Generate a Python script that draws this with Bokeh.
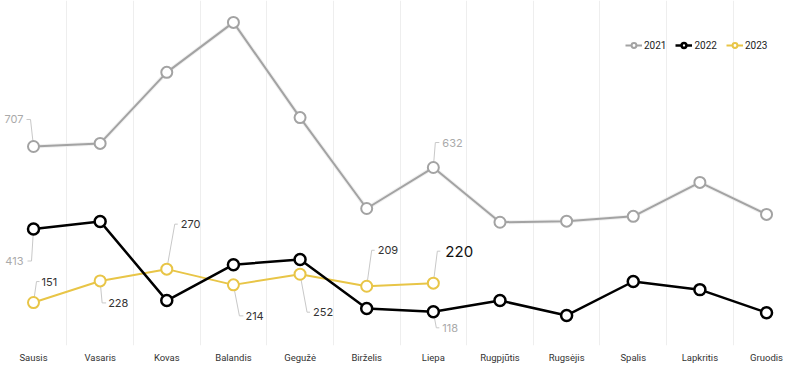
from bokeh.plotting import figure
from bokeh.models import Range1d, FixedTicker, Legend, LegendItem, ColumnDataSource
from bokeh.embed import file_html
from bokeh.resources import INLINE
from bokeh.core.properties import value

months = ["Sausis", "Vasaris", "Kovas", "Balandis", "Gegužė", "Birželis", "Liepa",
          "Rugpjūtis", "Rugsėjis", "Spalis", "Lapkritis", "Gruodis"]
v2021 = [707, 718, 971, 1149, 810, 486, 632, 437, 441, 458, 579, 465]
v2022 = [413, 440, 158, 286, 304, 130, 118, 158, 105, 226, 197, 115]
v2023 = [151, 228, 270, 214, 252, 209, 220]

FONT = "Inter"
FW, FH = 800, 345
UNIT = 66.64
XMIN = -33 / UNIT
XMAX = XMIN + FW / UNIT
YMIN, YMAX = -2, 1227
px_x = FW / (XMAX - XMIN)
px_y = FH / (YMAX - YMIN)

p = figure(width=FW, height=364, frame_width=FW, frame_height=FH,
           output_backend="svg", toolbar_location=None,
           x_range=Range1d(XMIN, XMAX), y_range=Range1d(YMIN, YMAX),
           min_border=0, min_border_left=0, min_border_right=0,
           min_border_top=0, min_border_bottom=0)
p.outline_line_color = None
p.background_fill_color = "white"
p.yaxis.visible = False
p.ygrid.grid_line_color = None
p.xgrid.ticker = FixedTicker(ticks=[i + 0.5 for i in range(11)])
p.xgrid.grid_line_color = "#eeeeee"
p.xgrid.grid_line_width = 1
p.xaxis.ticker = FixedTicker(ticks=list(range(12)))
p.xaxis.major_label_overrides = {i: m for i, m in enumerate(months)}
p.xaxis.axis_line_color = None
p.xaxis.major_tick_line_color = None
p.xaxis.minor_tick_line_color = None
p.xaxis.major_label_text_font = "Roboto"
p.xaxis.major_label_text_font_size = "9.5px"
p.xaxis.major_label_text_color = "#333333"
p.xaxis.major_label_standoff = 0

GRAY, BLACK, YEL = "#a3a3a3", "#000000", "#e8c547"

series = [("2021", v2021, GRAY, 2), ("2022", v2022, BLACK, 2.5), ("2023", v2023, YEL, 2)]
items = []
renders = {}
for name, vals, col, lw in series[::-1]:
    xs = list(range(len(vals)))
    src = ColumnDataSource(dict(x=xs, y=vals))
    if name == "2021":
        p.line(x="x", y="y", source=src, line_color="#e6e6e6", line_width=4, alpha=0.6)
    lr = p.line(x="x", y="y", source=src, line_color=col, line_width=lw)
    sr = p.scatter(x="x", y="y", source=src, size=11, fill_color="white",
                   line_color=col, line_width=lw)
    renders[name] = (lr, sr)
for name, vals, col, lw in series:
    items.append(LegendItem(label=name, renderers=list(renders[name])))

leg = Legend(items=items, orientation="horizontal", location=(625, 294),
             background_fill_alpha=0, border_line_color=None,
             label_text_font="Roboto", label_text_font_size="10px", label_text_color="#222222",
             glyph_width=17, glyph_height=12, label_standoff=2, spacing=9, padding=0, margin=0,
             label_height=12)
p.add_layout(leg)

# annotations: series, index, elbow dx, elbow dy (screen px, +down), dash end dx, text dx, align, color, size
ann = [
    ("2021", 0, -3, -27, -7, -10, "right", "#aaaaaa", "11px"),
    ("2022", 0, -2, 32, -6, -10, "right", "#aaaaaa", "11px"),
    ("2023", 0, 3, -21, 6, 8, "left", "#333333", "11px"),
    ("2023", 1, 2, 22, 6, 8, "left", "#333333", "11px"),
    ("2023", 2, 8, -45, 11, 14, "left", "#333333", "11px"),
    ("2023", 3, 6, 31, 10, 12, "left", "#333333", "11px"),
    ("2023", 4, 7, 38, 10, 13, "left", "#333333", "11px"),
    ("2023", 5, 5, -36, 8, 11, "left", "#333333", "11px"),
    ("2023", 6, 4, -32, 7, 12, "left", "#111111", "15px"),
    ("2022", 6, 3, 16, 6, 9, "left", "#aaaaaa", "11px"),
    ("2021", 6, 2, -25, 6, 9, "left", "#aaaaaa", "11px"),
]
data = {"2021": v2021, "2022": v2022, "2023": v2023}
for s, i, dxe, dye, dxh, dxt, al, col, fs in ann:
    y = data[s][i]
    xe = i + dxe / px_x
    ye = y - dye / px_y
    xh = i + dxh / px_x
    p.line(x=[i, xe, xh], y=[y, ye, ye], line_color="#c8c8c8", line_width=1, level="underlay")
    p.text(x=[i + dxt / px_x], y=[ye], text=[str(y)], text_align=al, text_baseline="middle",
           text_font=value(FONT), text_font_size=fs, text_color=col)

open("out.html", "w").write(file_html(p, INLINE))
